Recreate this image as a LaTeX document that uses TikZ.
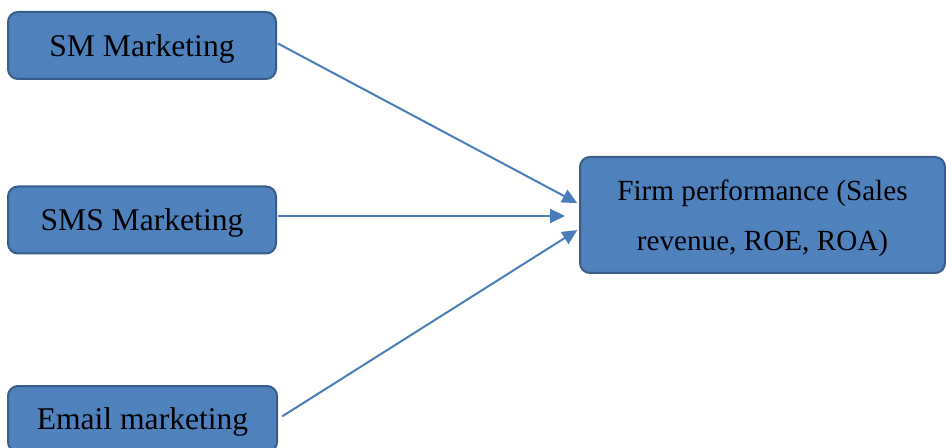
\documentclass[tikz,border=0pt]{standalone}
\usepackage{fontspec}
\setmainfont{Liberation Serif}
\usetikzlibrary{arrows.meta, calc}
\definecolor{BoxBlue}{RGB}{79,129,189}
\definecolor{EdgeBlue}{RGB}{56,93,138}
\definecolor{LinkBlue}{RGB}{74,126,187}

\tikzset{
  box/.style={draw=EdgeBlue, line width=1pt, fill=BoxBlue, rounded corners=5pt,
    minimum width=134pt, minimum height=33.5pt, inner sep=0pt, text depth=0pt,
    font=\fontsize{15.8}{19}\selectfont},
  link/.style={LinkBlue, line width=1pt, -{Triangle[length=7.5pt,width=7pt]}}
}

\begin{document}
\begin{tikzpicture}[x=0.5pt, y=-0.5pt]
\useasboundingbox (0,0) rectangle (946,448);
\node[box] (SM) at (142,45.5) {SM Marketing};
\node[box] (SMS) at (142,220) {SMS Marketing};
\node[box, minimum width=134.5pt, minimum height=33pt] (EM) at (142.5,419) {Email marketing};
\node[box, minimum width=182.5pt, minimum height=58pt, align=center,
  font=\fontsize{14.6}{25}\selectfont] (FP) at (762.5,215)
  {Firm performance (Sales\\revenue, ROE, ROA)};
\draw[link, shorten <=0.5pt, shorten >=1pt] ([yshift=1.25pt]SM.east) -- ([yshift=5.5pt]FP.west);
\draw[link, shorten <=0.5pt, shorten >=7pt] ([yshift=2pt]SMS.east) -- ([yshift=2pt]SMS.east -| FP.west);
\draw[link, shorten <=2.5pt, shorten >=1pt] (EM.east) -- ([yshift=-7pt]FP.west);
\end{tikzpicture}
\end{document}
